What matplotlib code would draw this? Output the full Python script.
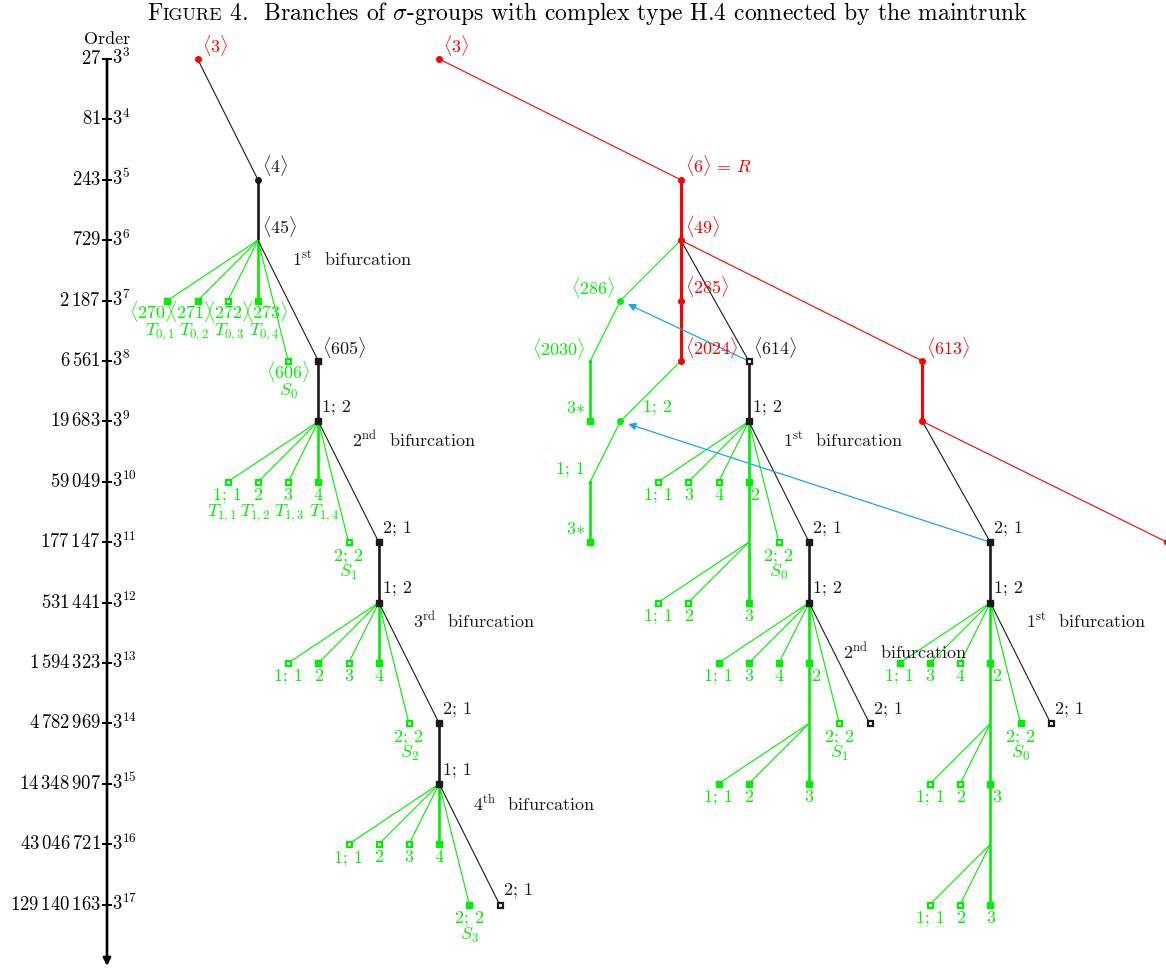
import matplotlib.pyplot as plt
from matplotlib.patches import FancyArrowPatch

plt.rcParams['mathtext.fontset'] = 'cm'
plt.rcParams['font.family'] = 'cmr10'
plt.rcParams['axes.unicode_minus'] = False

# ----------------- data -----------------
order_exp = list(range(3, 18))
order_values = ['27', '81', '243', '729', r'2\,187', r'6\,561', r'19\,683', r'59\,049',
                r'177\,147', r'531\,441', r'1\,594\,323', r'4\,782\,969',
                r'14\,348\,907', r'43\,046\,721', r'129\,140\,163']

# vertices: (id, column, exponent of order, kind)
# kind: first letter colour (r/k/g), second d=dot, t=tiny, f=filled, h=hollow, n=no mark
left_nodes = [
    ('L3', 3, 3, 'rd'), ('L4', 5, 5, 'kd'), ('L45', 5, 6, 'kn'),
    ('L270', 2, 7, 'gf'), ('L271', 3, 7, 'gf'), ('L272', 4, 7, 'gh'), ('L273', 5, 7, 'gf'),
    ('L606', 6, 8, 'gh'), ('L605', 7, 8, 'kf'), ('L9', 7, 9, 'kf'),
    ('L10a', 4, 10, 'gh'), ('L10b', 5, 10, 'gh'), ('L10c', 6, 10, 'gh'), ('L10d', 7, 10, 'gf'),
    ('L11s', 8, 11, 'gh'), ('L11', 9, 11, 'kf'), ('L12', 9, 12, 'kf'),
    ('L13a', 6, 13, 'gh'), ('L13b', 7, 13, 'gf'), ('L13c', 8, 13, 'gh'), ('L13d', 9, 13, 'gf'),
    ('L14s', 10, 14, 'gh'), ('L14', 11, 14, 'kf'), ('L15', 11, 15, 'kf'),
    ('L16a', 8, 16, 'gh'), ('L16b', 9, 16, 'gh'), ('L16c', 10, 16, 'gh'), ('L16d', 11, 16, 'gf'),
    ('L17s', 12, 17, 'gf'), ('L17', 13, 17, 'kh'),
]
trunk_nodes = [
    ('R3', 11, 3, 'rd'), ('R6', 19, 5, 'rd'), ('R49', 19, 6, 'rd'), ('R285', 19, 7, 'rd'),
    ('R2024', 19, 8, 'rd'), ('R613', 27, 8, 'rd'), ('R613b', 27, 9, 'rd'), ('Rend', 35.1, 11, 'rd'),
    ('G286', 17, 7, 'gd'), ('G2030', 16, 8, 'gt'), ('G3a', 16, 9, 'gf'),
    ('G12', 17, 9, 'gd'), ('G11', 16, 10, 'gt'), ('G3b', 16, 11, 'gf'),
]
mid_nodes = [
    ('M614', 21.25, 8, 'kh'), ('M9', 21.25, 9, 'kf'),
    ('M10a', 18.25, 10, 'gh'), ('M10b', 19.25, 10, 'gh'), ('M10c', 20.25, 10, 'gh'), ('M10d', 21.25, 10, 'gf'),
    ('M11s', 22.25, 11, 'gh'), ('M11', 23.25, 11, 'kf'), ('M11g', 21.25, 11, 'gn'),
    ('M12a', 18.25, 12, 'gh'), ('M12b', 19.25, 12, 'gh'), ('M12c', 21.25, 12, 'gf'), ('M12', 23.25, 12, 'kf'),
    ('M13a', 20.25, 13, 'gf'), ('M13b', 21.25, 13, 'gf'), ('M13c', 22.25, 13, 'gf'), ('M13d', 23.25, 13, 'gf'),
    ('M14s', 24.25, 14, 'gh'), ('M14', 25.25, 14, 'kh'), ('M14g', 23.25, 14, 'gn'),
    ('M15a', 20.25, 15, 'gf'), ('M15b', 21.25, 15, 'gf'), ('M15c', 23.25, 15, 'gf'),
]
right_nodes = [
    ('Q11', 29.25, 11, 'kf'), ('Q12', 29.25, 12, 'kf'),
    ('Q13a', 26.25, 13, 'gf'), ('Q13b', 27.25, 13, 'gf'), ('Q13c', 28.25, 13, 'gh'), ('Q13d', 29.25, 13, 'gf'),
    ('Q14s', 30.25, 14, 'gf'), ('Q14', 31.25, 14, 'kh'), ('Q14g', 29.25, 14, 'gn'),
    ('Q15a', 27.25, 15, 'gh'), ('Q15b', 28.25, 15, 'gh'), ('Q15c', 29.25, 15, 'gf'),
    ('Q16g', 29.25, 16, 'gn'),
    ('Q17a', 27.25, 17, 'gh'), ('Q17b', 28.25, 17, 'gh'), ('Q17c', 29.25, 17, 'gf'),
]

# edges: lower case = thin, upper case = thick
left_edges = [
    ('L3', 'L4', 'k'), ('L4', 'L45', 'K'),
    ('L45', 'L270', 'g'), ('L45', 'L271', 'g'), ('L45', 'L272', 'g'), ('L45', 'L273', 'G'),
    ('L45', 'L606', 'g'), ('L45', 'L605', 'k'), ('L605', 'L9', 'K'),
    ('L9', 'L10a', 'g'), ('L9', 'L10b', 'g'), ('L9', 'L10c', 'g'), ('L9', 'L10d', 'G'),
    ('L9', 'L11s', 'g'), ('L9', 'L11', 'k'), ('L11', 'L12', 'K'),
    ('L12', 'L13a', 'g'), ('L12', 'L13b', 'g'), ('L12', 'L13c', 'g'), ('L12', 'L13d', 'G'),
    ('L12', 'L14s', 'g'), ('L12', 'L14', 'k'), ('L14', 'L15', 'K'),
    ('L15', 'L16a', 'g'), ('L15', 'L16b', 'g'), ('L15', 'L16c', 'g'), ('L15', 'L16d', 'G'),
    ('L15', 'L17s', 'g'), ('L15', 'L17', 'k'),
]
trunk_edges = [
    ('R3', 'R6', 'r'), ('R6', 'R49', 'R'), ('R49', 'R285', 'R'), ('R285', 'R2024', 'R'),
    ('R49', 'R613', 'r'), ('R613', 'R613b', 'R'), ('R613b', 'Rend', 'r'),
    ('R49', 'G286', 'g'), ('G286', 'G2030', 'g'), ('G2030', 'G3a', 'G'),
    ('R2024', 'G12', 'g'), ('G12', 'G11', 'g'), ('G11', 'G3b', 'G'),
    ('R49', 'M614', 'k'), ('R613b', 'Q11', 'k'),
]
mid_edges = [
    ('M614', 'M9', 'K'),
    ('M9', 'M10a', 'g'), ('M9', 'M10b', 'g'), ('M9', 'M10c', 'g'), ('M9', 'M10d', 'G'),
    ('M9', 'M11s', 'g'), ('M9', 'M11', 'k'),
    ('M10d', 'M11g', 'G'), ('M11g', 'M12a', 'g'), ('M11g', 'M12b', 'g'), ('M11g', 'M12c', 'G'),
    ('M11', 'M12', 'K'),
    ('M12', 'M13a', 'g'), ('M12', 'M13b', 'g'), ('M12', 'M13c', 'g'), ('M12', 'M13d', 'G'),
    ('M12', 'M14s', 'g'), ('M12', 'M14', 'k'),
    ('M13d', 'M14g', 'G'), ('M14g', 'M15a', 'g'), ('M14g', 'M15b', 'g'), ('M14g', 'M15c', 'G'),
]
right_edges = [
    ('Q11', 'Q12', 'K'),
    ('Q12', 'Q13a', 'g'), ('Q12', 'Q13b', 'g'), ('Q12', 'Q13c', 'g'), ('Q12', 'Q13d', 'G'),
    ('Q12', 'Q14s', 'g'), ('Q12', 'Q14', 'k'),
    ('Q13d', 'Q14g', 'G'), ('Q14g', 'Q15a', 'g'), ('Q14g', 'Q15b', 'g'), ('Q14g', 'Q15c', 'G'),
    ('Q15c', 'Q16g', 'G'), ('Q16g', 'Q17a', 'g'), ('Q16g', 'Q17b', 'g'), ('Q16g', 'Q17c', 'G'),
]
links = [('M614', 'G286'), ('Q11', 'G12')]

# vertex labels: (vertex, text, colour, placement)
# placement: 'ar' above right, 'al' above left, 'b' below, 'b2' second line below
vertex_labels = [
    ('L3', r'$\langle 3\rangle$', 'r', 'ar'), ('L4', r'$\langle 4\rangle$', 'k', 'ar'),
    ('L45', r'$\langle 45\rangle$', 'k', 'ar'),
    ('L270', r'$\langle 270\rangle$', 'g', 'b'), ('L271', r'$\langle 271\rangle$', 'g', 'b'),
    ('L272', r'$\langle 272\rangle$', 'g', 'b'), ('L273', r'$\langle 273\rangle$', 'g', 'b'),
    ('L270', r'$T_{0,1}$', 'g', 'b2'), ('L271', r'$T_{0,2}$', 'g', 'b2'),
    ('L272', r'$T_{0,3}$', 'g', 'b2'), ('L273', r'$T_{0,4}$', 'g', 'b2'),
    ('L606', r'$\langle 606\rangle$', 'g', 'b'), ('L606', r'$S_0$', 'g', 'b2'),
    ('L605', r'$\langle 605\rangle$', 'k', 'ar'), ('L9', '1; 2', 'k', 'ar'),
    ('L10a', '1; 1', 'g', 'b'), ('L10b', '2', 'g', 'b'), ('L10c', '3', 'g', 'b'), ('L10d', '4', 'g', 'b'),
    ('L10a', r'$T_{1,1}$', 'g', 'b2'), ('L10b', r'$T_{1,2}$', 'g', 'b2'),
    ('L10c', r'$T_{1,3}$', 'g', 'b2'), ('L10d', r'$T_{1,4}$', 'g', 'b2'),
    ('L11s', '2; 2', 'g', 'b'), ('L11s', r'$S_1$', 'g', 'b2'),
    ('L11', '2; 1', 'k', 'ar'), ('L12', '1; 2', 'k', 'ar'),
    ('L13a', '1; 1', 'g', 'b'), ('L13b', '2', 'g', 'b'), ('L13c', '3', 'g', 'b'), ('L13d', '4', 'g', 'b'),
    ('L14s', '2; 2', 'g', 'b'), ('L14s', r'$S_2$', 'g', 'b2'),
    ('L14', '2; 1', 'k', 'ar'), ('L15', '1; 1', 'k', 'ar'),
    ('L16a', '1; 1', 'g', 'b'), ('L16b', '2', 'g', 'b'), ('L16c', '3', 'g', 'b'), ('L16d', '4', 'g', 'b'),
    ('L17s', '2; 2', 'g', 'b'), ('L17s', r'$S_3$', 'g', 'b2'), ('L17', '2; 1', 'k', 'ar'),
    ('R3', r'$\langle 3\rangle$', 'r', 'ar'), ('R6', r'$\langle 6\rangle\,=\,R$', 'r', 'ar'),
    ('R49', r'$\langle 49\rangle$', 'r', 'ar'), ('R285', r'$\langle 285\rangle$', 'r', 'ar'),
    ('R2024', r'$\langle 2024\rangle$', 'r', 'ar'), ('R613', r'$\langle 613\rangle$', 'r', 'ar'),
    ('G286', r'$\langle 286\rangle$', 'g', 'al'), ('G2030', r'$\langle 2030\rangle$', 'g', 'al'),
    ('G3a', r'$3{\ast}$', 'g', 'al'), ('G12', '1; 2', 'g', 'far'),
    ('G11', '1; 1', 'g', 'al'), ('G3b', r'$3{\ast}$', 'g', 'al'),
    ('M614', r'$\langle 614\rangle$', 'k', 'ar'), ('M9', '1; 2', 'k', 'ar'),
    ('M10a', '1; 1', 'g', 'b'), ('M10b', '3', 'g', 'b'), ('M10c', '4', 'g', 'b'), ('M10d', '2', 'g', 'br'),
    ('M11s', '2; 2', 'g', 'b'), ('M11s', r'$S_0$', 'g', 'b2'), ('M11', '2; 1', 'k', 'ar'),
    ('M12a', '1; 1', 'g', 'b'), ('M12b', '2', 'g', 'b'), ('M12c', '3', 'g', 'b'), ('M12', '1; 2', 'k', 'ar'),
    ('M13a', '1; 1', 'g', 'b'), ('M13b', '3', 'g', 'b'), ('M13c', '4', 'g', 'b'), ('M13d', '2', 'g', 'br'),
    ('M14s', '2; 2', 'g', 'b'), ('M14s', r'$S_1$', 'g', 'b2'), ('M14', '2; 1', 'k', 'ar'),
    ('M15a', '1; 1', 'g', 'b'), ('M15b', '2', 'g', 'b'), ('M15c', '3', 'g', 'b'),
    ('Q11', '2; 1', 'k', 'ar'), ('Q12', '1; 2', 'k', 'ar'),
    ('Q13a', '1; 1', 'g', 'b'), ('Q13b', '3', 'g', 'b'), ('Q13c', '4', 'g', 'b'), ('Q13d', '2', 'g', 'br'),
    ('Q14s', '2; 2', 'g', 'b'), ('Q14s', r'$S_0$', 'g', 'b2'), ('Q14', '2; 1', 'k', 'ar'),
    ('Q15a', '1; 1', 'g', 'b'), ('Q15b', '2', 'g', 'b'), ('Q15c', '3', 'g', 'br'),
    ('Q17a', '1; 1', 'g', 'b'), ('Q17b', '2', 'g', 'b'), ('Q17c', '3', 'g', 'b'),
]
# the crowded first rows of the left branch are spread out sideways (pixels)
label_shift = {('L270', 'b'): -16, ('L271', 'b'): -7, ('L272', 'b'): 0, ('L273', 'b'): 8,
               ('L270', 'b2'): -7, ('L271', 'b2'): -3, ('L272', 'b2'): 1, ('L273', 'b2'): 6,
               ('L10a', 'b2'): -6, ('L10b', 'b2'): -3, ('L10c', 'b2'): 1, ('L10d', 'b2'): 6}

bifurcations = [('1', 'st', 6.13, 6.31), ('2', 'nd', 8.11, 9.31), ('3', 'rd', 10.13, 12.31),
                ('4', 'th', 12.12, 15.33), ('1', 'st', 22.38, 9.31), ('2', 'nd', 24.37, 12.81),
                ('1', 'st', 30.43, 12.31)]

title_parts = [('F', 17), ('IGURE', 13),
               (r' 4.  Branches of $\sigma$-groups with complex type H.4 connected by the maintrunk', 17)]

# ----------------- drawing -----------------
W, H = 1166, 971
X0, DX = 107, 30.2     # axis pixel column, pixels per column
Y0, DY = 59, 60.4      # pixel row of 3^3, pixels per power of 3

COL = {'k': '#1a1a1a', 'g': '#00ee00', 'r': '#ff0000'}
BLUE = '#1ca6ea'
FS = 13

fig = plt.figure(figsize=(W / 100, H / 100), dpi=100)
ax = fig.add_axes([0, 0, 1, 1])
ax.set_xlim(-X0 / DX, (W - X0) / DX)
ax.set_ylim(3 + (H - Y0) / DY, 3 - Y0 / DY)
ax.axis('off')

# order axis
ax.annotate('', xy=(0, 3 + (966 - Y0) / DY), xytext=(0, order_exp[0]),
            arrowprops=dict(arrowstyle='-|>', lw=1.9, color='black', mutation_scale=11,
                            shrinkA=0, shrinkB=0))
for e, v in zip(order_exp, order_values):
    ax.plot([-0.13, 0.13], [e, e], color='black', lw=1.4)
    ax.annotate(rf'${v}$', (0, e), xytext=(-6, 0), textcoords='offset pixels',
                ha='right', va='center', fontsize=FS + 0.5)
    ax.annotate(rf'$3^{{{e}}}$', (0, e), xytext=(5, 1), textcoords='offset pixels',
                ha='left', va='center', fontsize=FS + 0.5)
ax.annotate('Order', (0, order_exp[0]), xytext=(0, 20), textcoords='offset pixels',
            ha='center', va='center', fontsize=FS)

pos = {}
kinds = {}
for nid, c, e, k in left_nodes + trunk_nodes + mid_nodes + right_nodes:
    pos[nid] = (c, e)
    kinds[nid] = k

for a, b, s in left_edges + trunk_edges + mid_edges + right_edges:
    (x1, y1), (x2, y2) = pos[a], pos[b]
    thick = s.isupper()
    lw = (2.2 if s.lower() == 'r' else 1.9) if thick else 0.8
    ax.plot([x1, x2], [y1, y2], color=COL[s.lower()], lw=lw, zorder=2,
            solid_capstyle='butt')

for a, b in links:
    ax.add_patch(FancyArrowPatch(pos[a], pos[b], arrowstyle='-|>', mutation_scale=11,
                                 color=BLUE, lw=0.9, shrinkA=0, shrinkB=6, zorder=2))

for nid, (c, e) in pos.items():
    k = kinds[nid]
    col = COL[k[0]]
    if k[1] == 'd':
        ax.plot(c, e, 'o', ms=4, color=col, zorder=4)
    elif k[1] == 't':
        ax.plot(c, e, 'o', ms=1.5, color=col, zorder=4)
    elif k[1] == 'f':
        ax.plot(c, e, 's', ms=5, mfc=col, mec=col, zorder=4)
    elif k[1] == 'h':
        ax.plot(c, e, 's', ms=3.6, mfc='white', mec=col, mew=1.6, zorder=4)

# (dx, dy, ha, va) in pixels
place = {'ar': (4, 14, 'left', 'center'), 'al': (-5, 13, 'right', 'center'),
         'far': (23, 14, 'left', 'center'),
         'b': (0, -18, 'center', 'baseline'), 'b2': (0, -35, 'center', 'baseline'),
         'br': (6, -18, 'center', 'baseline')}
for nid, txt, c, p in vertex_labels:
    dx, dy, ha, va = place[p]
    dx += label_shift.get((nid, p), 0)
    ax.annotate(txt, pos[nid], xytext=(dx, dy), textcoords='offset pixels',
                ha=ha, va=va, color=COL[c], fontsize=FS, zorder=5)

for n, sup, c, e in bifurcations:
    ax.text(c, e, rf'${n}^{{\rm {sup}}}$  bifurcation', ha='left', va='center',
            fontsize=FS, color=COL['k'], zorder=5)

# title with small capitals
fig.canvas.draw()
r = fig.canvas.get_renderer()
x = 147
for txt, size in title_parts:
    t = fig.text(x / W, 1 - 20 / H, txt, fontsize=size, ha='left', va='baseline')
    x = t.get_window_extent(r).x1

fig.savefig('out.png', dpi=100)
